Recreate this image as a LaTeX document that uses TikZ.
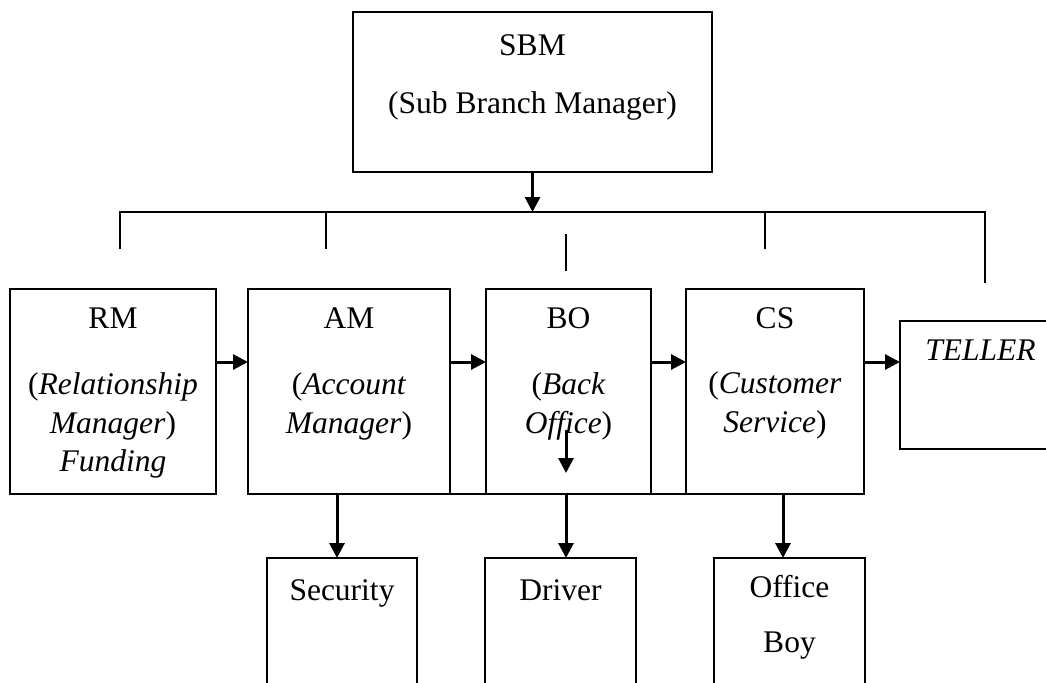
\documentclass[tikz,border=0pt]{standalone}
\usepackage{fontspec}
\setmainfont{Liberation Serif}
\usetikzlibrary{arrows.meta,positioning}

\begin{document}
\begin{tikzpicture}[x=0.5pt, y=-0.5pt,
  font=\fontsize{15.75}{19.25}\selectfont,
  box/.style={draw, line width=1pt, minimum height=102.5pt, inner sep=0pt, outer sep=0pt},
  txt/.style={anchor=north, align=center, inner sep=0pt, yshift=-6pt},
  arrow/.style={-{Triangle[length=7.5pt, width=7.5pt]}, line width=1.5pt},
  wire/.style={line width=1pt}]
\useasboundingbox (0,0) rectangle (1046,682);
\clip (0,0) rectangle (1046,682);
% head of the sub branch
\node[box, minimum width=179.5pt, minimum height=80pt,
  label={[txt, yshift=-2pt]north:\strut SBM\\[9.75pt](Sub Branch Manager)}] (sbm) at (532.5,92) {};
% staff row
\node[box, minimum width=103pt,
  label={[txt]north:\strut RM\\[14pt](\textit{Relationship}\\\textit{Manager})\\\textit{Funding}}] (rm) at (113,391.5) {};
\node[box, minimum width=101pt, right=16pt of rm,
  label={[txt]north:\strut AM\\[14pt](\textit{Account}\\\textit{Manager})}] (am) {};
\node[box, minimum width=82.5pt, right=18pt of am,
  label={[txt]north:\strut BO\\[14pt](\textit{Back}\\\textit{Office})}] (bo) {};
\node[box, minimum width=89pt, right=17.5pt of bo,
  label={[txt]north:\strut CS\\[13.5pt](\textit{Customer}\\\textit{Service})}] (cs) {};
\node[box, minimum width=80pt, minimum height=64pt, right=18pt of cs, yshift=3.25pt,
  label={[txt, anchor=north west, xshift=12.5pt]north west:\strut\textit{TELLER}}] (teller) {};
% support staff
\node[box, minimum width=75pt, minimum height=75pt,
  label={[txt, yshift=-1.5pt]north:\strut Security}] (sec) at (342,633) {};
\node[box, minimum width=75.5pt, minimum height=75pt, right=34pt of sec,
  label={[txt, yshift=-1.5pt]north:\strut Driver}] (drv) {};
\node[box, minimum width=75.5pt, minimum height=75pt, right=39pt of drv,
  label={[txt]north:\strut Office\\[8.25pt]Boy}] (boy) {};
% bus under the SBM box
\coordinate (bl) at (120,212);
\coordinate (br) at (985,212);
\draw[arrow] (sbm.south) -- (sbm.south |- bl);
\draw[wire] ([yshift=-18.5pt]bl) -- (bl) -- (br) -- ([yshift=-35.5pt]br);
\foreach \x in {326,765}
  \draw[wire] (\x,212) -- (\x,249);
\draw[wire] (566,234) -- (566,271);
% arrows along the row
\coordinate (lvl) at (0,362);
\foreach \a/\b in {rm/am, am/bo, bo/cs, cs/teller}
  \draw[arrow] (\a.east |- lvl) -- (\b.west |- lvl);
% line under the row and drops to support staff
\draw[wire] (am.south west) -- (cs.south east);
\draw[arrow] (566,430) -- (566,473);
\foreach \x/\n in {337/sec, 566/drv, 783/boy}
  \draw[arrow] (\x,493) -- (\x,0 |- \n.north);
\end{tikzpicture}
\end{document}
